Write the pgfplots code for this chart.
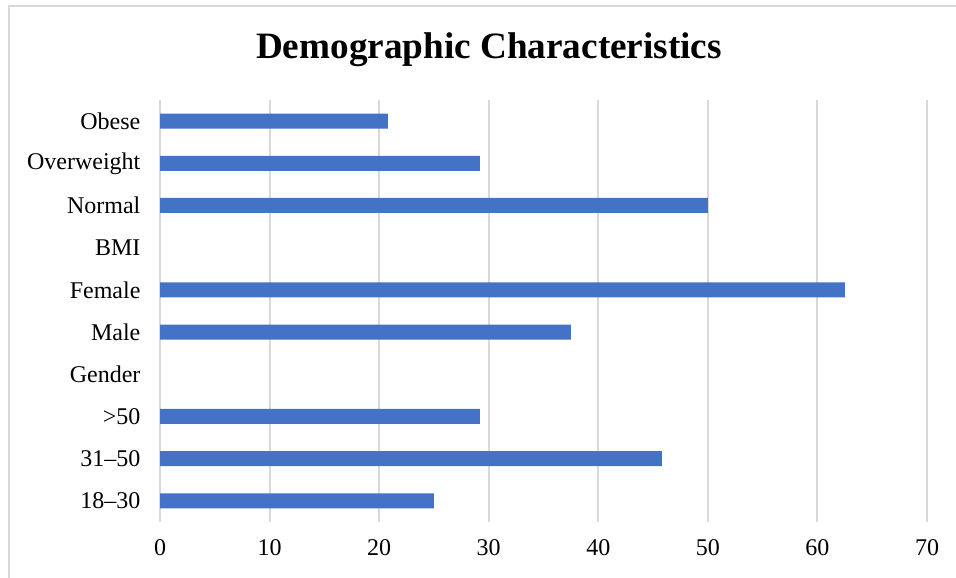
\documentclass[border=0pt]{standalone}
\usepackage{pgfplots}
\pgfplotsset{compat=1.18}
\usepackage{fontspec}
\setmainfont{Liberation Serif}
\definecolor{barblue}{HTML}{4472C4}
\definecolor{gridgray}{HTML}{D9D9D9}
\begin{document}
\begin{tikzpicture}[x=1pt,y=1pt]
\useasboundingbox (0,0) rectangle (478,288.5);
\draw[gridgray, line width=1pt] (4.5,-5) -- (4.5,285.5) -- (490,285.5);
\node[font=\fontsize{18.6}{20}\selectfont\bfseries] at (244.5,263.5) {Demographic Characteristics};
\begin{axis}[at={(80pt,27.5pt)}, anchor=south west, scale only axis,
  width=383.5pt, height=211pt,
  xbar, bar width=7.5pt,
  xmin=0, xmax=70, ymin=-0.5, ymax=9.5,
  ytick={0,...,9},
  yticklabels={18--30,31--50,>50,Gender,Male,Female,BMI,Normal,Overweight,Obese},
  xtick={0,10,...,70},
  xmajorgrids, grid style={gridgray, line width=1pt},
  axis line style={draw=none}, tick style={draw=none},
  ticklabel style={font=\fontsize{12}{14}\selectfont},
  /pgf/number format/assume math mode=true,
  yticklabel style={xshift=-2pt},
  xticklabel style={yshift=-5pt},
  clip=false]
\addplot[barblue, fill=barblue, draw=none] coordinates {
(25,0) (45.8,1) (29.2,2) (37.5,4) (62.5,5) (50,7) (29.2,8) (20.8,9)};
\end{axis}
\end{tikzpicture}
\end{document}
